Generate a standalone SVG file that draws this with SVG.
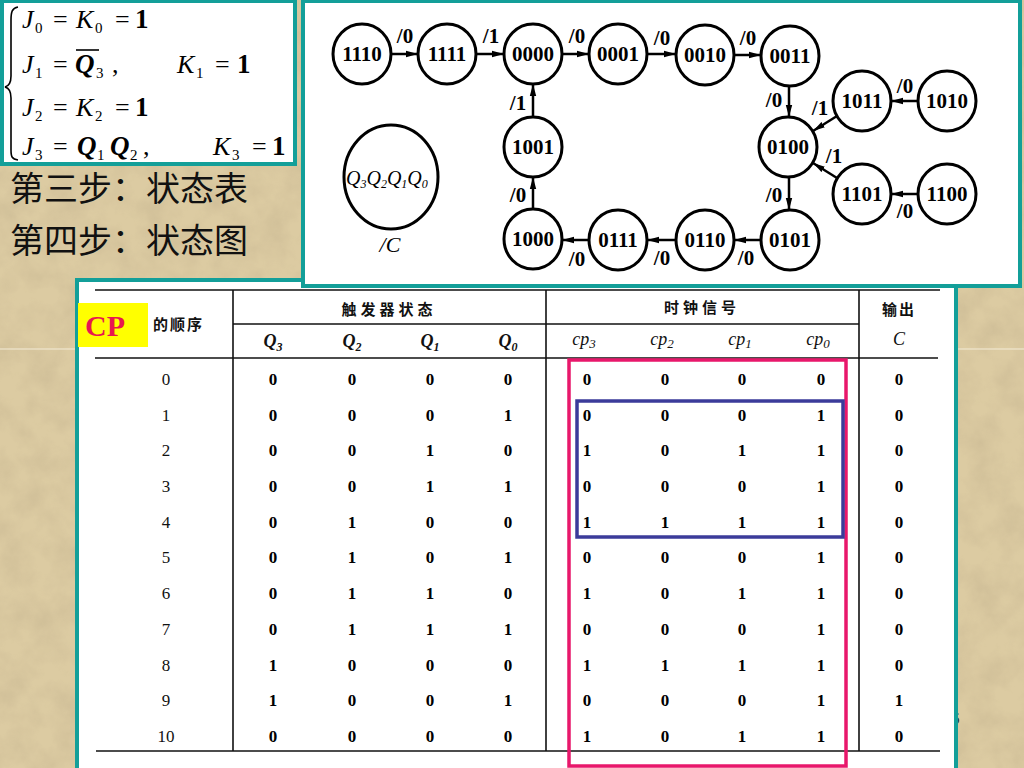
<svg xmlns="http://www.w3.org/2000/svg" width="1024" height="768" viewBox="0 0 1024 768">
<defs>
<filter id="paper" x="0" y="0" width="100%" height="100%">
<feTurbulence type="fractalNoise" baseFrequency="0.035" numOctaves="4" seed="7"/>
<feColorMatrix type="matrix" values="0 0 0 0 0.45  0 0 0 0 0.36  0 0 0 0 0.22  0.9 0 0 0 -0.3"/>
</filter>
<marker id="ah" markerUnits="userSpaceOnUse" markerWidth="12" markerHeight="8" refX="12" refY="4" orient="auto">
<path d="M0,0.8 L12,4 L0,7.2 z" fill="#000"/>
</marker>
<style>
.box{fill:#fff;stroke:#139f99;stroke-width:4}
.node{fill:#fff;stroke:#000;stroke-width:3}
.nt{font-family:"Liberation Serif",serif;font-weight:bold;font-size:21px;text-anchor:middle;fill:#000}
.lb{font-family:"Liberation Serif",serif;font-weight:bold;font-size:21px;text-anchor:middle;fill:#000}
.edge{stroke:#000;stroke-width:2.5;fill:none;marker-end:url(#ah)}
.ei{font-family:"Liberation Serif",serif;font-style:italic;font-size:26px;fill:#000}
.eq{font-family:"Liberation Serif",serif;font-style:italic;font-weight:bold;font-size:27px;fill:#000}
.er{font-family:"Liberation Serif",serif;font-size:26px;fill:#000}
.eb{font-family:"Liberation Serif",serif;font-weight:bold;font-size:27px;fill:#000}
.es{font-family:"Liberation Serif",serif;font-size:15px;fill:#000}
.cn{font-family:"Noto Sans CJK SC",sans-serif;font-size:34px;fill:#111}
.th{font-family:"Noto Sans CJK SC",sans-serif;font-weight:bold;font-size:15px;fill:#111;text-anchor:middle}
.hq{font-family:"Liberation Serif",serif;font-style:italic;font-weight:bold;font-size:18px;fill:#111;text-anchor:middle}
.hc{font-family:"Liberation Serif",serif;font-style:italic;font-size:18px;fill:#111;text-anchor:middle}
.tl{stroke:#111;stroke-width:1.6;fill:none}
.tn{font-family:"Liberation Serif",serif;font-size:17px;fill:#111;text-anchor:middle}
.d{font-family:"Liberation Serif",serif;font-weight:bold;font-size:17px;fill:#000;text-anchor:middle}
</style>
</defs>

<!-- background -->
<rect x="0" y="0" width="1024" height="768" fill="#dccba2"/>
<rect x="0" y="0" width="1024" height="768" filter="url(#paper)" opacity="0.55"/>
<line x1="0" y1="349" x2="1024" y2="349" stroke="#f4ecd8" stroke-width="1"/>
<text x="951" y="724" font-family="Liberation Serif, serif" font-size="17" fill="#333">6</text>

<!-- equations box -->
<g id="equations">
<rect class="box" x="2" y="1" width="293" height="163"/>
<path d="M18,7 C12,8 11,12 11,20 L11,76 C11,82 9,86 5,87 C9,88 11,92 11,98 L11,150 C11,157 12,159 18,160" fill="none" stroke="#000" stroke-width="1.6"/>
<text class="ei" x="22" y="28">J</text><text class="es" x="35" y="33">0</text>
<text class="er" x="53" y="28">=</text>
<text class="ei" x="76" y="28">K</text><text class="es" x="95" y="33">0</text>
<text class="er" x="115" y="28">=</text>
<text class="eb" x="135" y="28">1</text>

<text class="ei" x="22" y="73">J</text><text class="es" x="35" y="78">1</text>
<text class="er" x="53" y="73">=</text>
<text class="eq" x="75" y="73">Q</text><text class="es" x="96" y="78">3</text>
<line x1="76" y1="50" x2="99" y2="50" stroke="#000" stroke-width="1.6"/>
<text class="er" x="112" y="73">,</text>
<text class="ei" x="177" y="73">K</text><text class="es" x="196" y="78">1</text>
<text class="er" x="215" y="73">=</text>
<text class="eb" x="237" y="73">1</text>

<text class="ei" x="22" y="116">J</text><text class="es" x="35" y="121">2</text>
<text class="er" x="53" y="116">=</text>
<text class="ei" x="76" y="116">K</text><text class="es" x="95" y="121">2</text>
<text class="er" x="115" y="116">=</text>
<text class="eb" x="135" y="116">1</text>

<text class="ei" x="22" y="155">J</text><text class="es" x="35" y="160">3</text>
<text class="er" x="53" y="155">=</text>
<text class="eq" x="77" y="155">Q</text><text class="es" x="97" y="160">1</text>
<text class="eq" x="110" y="155">Q</text><text class="es" x="130" y="160">2</text>
<text class="er" x="143" y="155">,</text>
<text class="ei" x="213" y="155">K</text><text class="es" x="232" y="160">3</text>
<text class="er" x="252" y="155">=</text>
<text class="eb" x="272" y="155">1</text>
</g>

<g id="steps">
<text class="cn" x="10" y="201">第三步：状态表</text>
<text class="cn" x="10" y="253">第四步：状态图</text>
</g>

<!-- table box -->
<g id="table">
<rect class="box" x="77" y="280" width="879" height="500"/>
<rect x="78" y="303" width="70" height="44" fill="#ffff00"/>
<text x="85" y="336" font-family="Liberation Serif, serif" font-weight="bold" font-size="30" fill="#e8174f">CP</text>
<text x="153" y="330" font-family="Noto Sans CJK SC, sans-serif" font-weight="bold" font-size="15" letter-spacing="2" fill="#111">的顺序</text>
<line class="tl" x1="95" y1="290" x2="940" y2="290"/>
<line class="tl" x1="233" y1="290" x2="233" y2="751"/>
<line class="tl" x1="546" y1="290" x2="546" y2="751"/>
<line class="tl" x1="859" y1="290" x2="859" y2="751"/>
<line class="tl" x1="233" y1="324" x2="859" y2="324"/>
<line class="tl" x1="95" y1="358" x2="938" y2="358"/>
<line class="tl" x1="96" y1="751" x2="940" y2="751"/>
<text class="th" x="389" y="315" letter-spacing="4">触发器状态</text>
<text class="th" x="702" y="313" letter-spacing="4">时钟信号</text>
<text class="th" x="899" y="315" letter-spacing="2">输出</text>
<text class="hc" x="899" y="345">C</text>
<text class="hq" x="273" y="347">Q<tspan font-size="12" dy="4">3</tspan></text>
<text class="hq" x="352" y="347">Q<tspan font-size="12" dy="4">2</tspan></text>
<text class="hq" x="430" y="347">Q<tspan font-size="12" dy="4">1</tspan></text>
<text class="hq" x="508" y="347">Q<tspan font-size="12" dy="4">0</tspan></text>
<text class="hc" x="584" y="345">cp<tspan font-size="13" dy="3">3</tspan></text>
<text class="hc" x="662" y="345">cp<tspan font-size="13" dy="3">2</tspan></text>
<text class="hc" x="740" y="345">cp<tspan font-size="13" dy="3">1</tspan></text>
<text class="hc" x="818" y="345">cp<tspan font-size="13" dy="3">0</tspan></text>

<g transform="translate(0,385)"><text class="tn" x="166" y="0">0</text><text class="d" x="273" y="0">0</text><text class="d" x="352" y="0">0</text><text class="d" x="430" y="0">0</text><text class="d" x="508" y="0">0</text><text class="d" x="587" y="0">0</text><text class="d" x="665" y="0">0</text><text class="d" x="742" y="0">0</text><text class="d" x="821" y="0">0</text><text class="d" x="899" y="0">0</text></g>
<g transform="translate(0,421)"><text class="tn" x="166" y="0">1</text><text class="d" x="273" y="0">0</text><text class="d" x="352" y="0">0</text><text class="d" x="430" y="0">0</text><text class="d" x="508" y="0">1</text><text class="d" x="587" y="0">0</text><text class="d" x="665" y="0">0</text><text class="d" x="742" y="0">0</text><text class="d" x="821" y="0">1</text><text class="d" x="899" y="0">0</text></g>
<g transform="translate(0,456)"><text class="tn" x="166" y="0">2</text><text class="d" x="273" y="0">0</text><text class="d" x="352" y="0">0</text><text class="d" x="430" y="0">1</text><text class="d" x="508" y="0">0</text><text class="d" x="587" y="0">1</text><text class="d" x="665" y="0">0</text><text class="d" x="742" y="0">1</text><text class="d" x="821" y="0">1</text><text class="d" x="899" y="0">0</text></g>
<g transform="translate(0,492)"><text class="tn" x="166" y="0">3</text><text class="d" x="273" y="0">0</text><text class="d" x="352" y="0">0</text><text class="d" x="430" y="0">1</text><text class="d" x="508" y="0">1</text><text class="d" x="587" y="0">0</text><text class="d" x="665" y="0">0</text><text class="d" x="742" y="0">0</text><text class="d" x="821" y="0">1</text><text class="d" x="899" y="0">0</text></g>
<g transform="translate(0,528)"><text class="tn" x="166" y="0">4</text><text class="d" x="273" y="0">0</text><text class="d" x="352" y="0">1</text><text class="d" x="430" y="0">0</text><text class="d" x="508" y="0">0</text><text class="d" x="587" y="0">1</text><text class="d" x="665" y="0">1</text><text class="d" x="742" y="0">1</text><text class="d" x="821" y="0">1</text><text class="d" x="899" y="0">0</text></g>
<g transform="translate(0,563)"><text class="tn" x="166" y="0">5</text><text class="d" x="273" y="0">0</text><text class="d" x="352" y="0">1</text><text class="d" x="430" y="0">0</text><text class="d" x="508" y="0">1</text><text class="d" x="587" y="0">0</text><text class="d" x="665" y="0">0</text><text class="d" x="742" y="0">0</text><text class="d" x="821" y="0">1</text><text class="d" x="899" y="0">0</text></g>
<g transform="translate(0,599)"><text class="tn" x="166" y="0">6</text><text class="d" x="273" y="0">0</text><text class="d" x="352" y="0">1</text><text class="d" x="430" y="0">1</text><text class="d" x="508" y="0">0</text><text class="d" x="587" y="0">1</text><text class="d" x="665" y="0">0</text><text class="d" x="742" y="0">1</text><text class="d" x="821" y="0">1</text><text class="d" x="899" y="0">0</text></g>
<g transform="translate(0,635)"><text class="tn" x="166" y="0">7</text><text class="d" x="273" y="0">0</text><text class="d" x="352" y="0">1</text><text class="d" x="430" y="0">1</text><text class="d" x="508" y="0">1</text><text class="d" x="587" y="0">0</text><text class="d" x="665" y="0">0</text><text class="d" x="742" y="0">0</text><text class="d" x="821" y="0">1</text><text class="d" x="899" y="0">0</text></g>
<g transform="translate(0,671)"><text class="tn" x="166" y="0">8</text><text class="d" x="273" y="0">1</text><text class="d" x="352" y="0">0</text><text class="d" x="430" y="0">0</text><text class="d" x="508" y="0">0</text><text class="d" x="587" y="0">1</text><text class="d" x="665" y="0">1</text><text class="d" x="742" y="0">1</text><text class="d" x="821" y="0">1</text><text class="d" x="899" y="0">0</text></g>
<g transform="translate(0,706)"><text class="tn" x="166" y="0">9</text><text class="d" x="273" y="0">1</text><text class="d" x="352" y="0">0</text><text class="d" x="430" y="0">0</text><text class="d" x="508" y="0">1</text><text class="d" x="587" y="0">0</text><text class="d" x="665" y="0">0</text><text class="d" x="742" y="0">0</text><text class="d" x="821" y="0">1</text><text class="d" x="899" y="0">1</text></g>
<g transform="translate(0,742)"><text class="tn" x="166" y="0">10</text><text class="d" x="273" y="0">0</text><text class="d" x="352" y="0">0</text><text class="d" x="430" y="0">0</text><text class="d" x="508" y="0">0</text><text class="d" x="587" y="0">1</text><text class="d" x="665" y="0">0</text><text class="d" x="742" y="0">1</text><text class="d" x="821" y="0">1</text><text class="d" x="899" y="0">0</text></g>

<rect x="569" y="360" width="277" height="406" fill="none" stroke="#e8176b" stroke-width="3.5"/>
<rect x="577" y="401" width="266" height="136" fill="none" stroke="#3b3b9a" stroke-width="3.5"/>
</g>

<!-- state diagram box -->
<rect class="box" x="303" y="1" width="717" height="285"/>

<g id="connectors">
<line class="edge" x1="391" y1="54" x2="418" y2="54"/>
<line class="edge" x1="476" y1="54" x2="504" y2="54"/>
<line class="edge" x1="562" y1="54" x2="589" y2="54"/>
<line class="edge" x1="647" y1="54" x2="676" y2="54"/>
<line class="edge" x1="734" y1="55" x2="761" y2="55"/>
<line class="edge" x1="789" y1="86" x2="789" y2="117"/>
<line class="edge" x1="789" y1="177" x2="789" y2="210"/>
<line class="edge" x1="918" y1="101" x2="891" y2="101"/>
<line class="edge" x1="837" y1="116" x2="813" y2="131"/>
<line class="edge" x1="918" y1="194" x2="891" y2="194"/>
<line class="edge" x1="837" y1="178" x2="813" y2="163"/>
<line class="edge" x1="761" y1="240" x2="734" y2="240"/>
<line class="edge" x1="676" y1="240" x2="647" y2="240"/>
<line class="edge" x1="589" y1="240" x2="562" y2="240"/>
<line class="edge" x1="533" y1="209" x2="533" y2="177"/>
<line class="edge" x1="533" y1="117" x2="533" y2="84"/>
<text class="lb" x="405" y="43">/0</text>
<text class="lb" x="491" y="43">/1</text>
<text class="lb" x="577" y="43">/0</text>
<text class="lb" x="662" y="45">/0</text>
<text class="lb" x="748" y="45">/0</text>
<text class="lb" x="774" y="107">/0</text>
<text class="lb" x="820" y="115">/1</text>
<text class="lb" x="905" y="93">/0</text>
<text class="lb" x="834" y="163">/1</text>
<text class="lb" x="905" y="218">/0</text>
<text class="lb" x="774" y="202">/0</text>
<text class="lb" x="746" y="265">/0</text>
<text class="lb" x="662" y="265">/0</text>
<text class="lb" x="577" y="266">/0</text>
<text class="lb" x="518" y="202">/0</text>
<text class="lb" x="518" y="110">/1</text>
</g>

<g id="n1110"><ellipse class="node" cx="362" cy="54" rx="29" ry="30"/><text class="nt" x="362" y="61">1110</text></g>
<g id="n1111"><ellipse class="node" cx="447" cy="54" rx="29" ry="30"/><text class="nt" x="447" y="61">1111</text></g>
<g id="n0000"><ellipse class="node" cx="533" cy="54" rx="29" ry="30"/><text class="nt" x="533" y="61">0000</text></g>
<g id="n0001"><ellipse class="node" cx="618" cy="54" rx="29" ry="30"/><text class="nt" x="618" y="61">0001</text></g>
<g id="n0010"><ellipse class="node" cx="705" cy="55" rx="29" ry="30"/><text class="nt" x="705" y="62">0010</text></g>
<g id="n0011"><ellipse class="node" cx="790" cy="56" rx="29" ry="30"/><text class="nt" x="790" y="63">0011</text></g>
<g id="n1011"><ellipse class="node" cx="862" cy="101" rx="29" ry="30"/><text class="nt" x="862" y="108">1011</text></g>
<g id="n1010"><ellipse class="node" cx="947" cy="101" rx="29" ry="30"/><text class="nt" x="947" y="108">1010</text></g>
<g id="n0100"><ellipse class="node" cx="788" cy="147" rx="29" ry="30"/><text class="nt" x="788" y="154">0100</text></g>
<g id="n1101"><ellipse class="node" cx="862" cy="194" rx="29" ry="30"/><text class="nt" x="862" y="201">1101</text></g>
<g id="n1100"><ellipse class="node" cx="947" cy="194" rx="29" ry="30"/><text class="nt" x="947" y="201">1100</text></g>
<g id="n0101"><ellipse class="node" cx="790" cy="240" rx="29" ry="30"/><text class="nt" x="790" y="247">0101</text></g>
<g id="n0110"><ellipse class="node" cx="705" cy="240" rx="29" ry="30"/><text class="nt" x="705" y="247">0110</text></g>
<g id="n0111"><ellipse class="node" cx="618" cy="240" rx="29" ry="30"/><text class="nt" x="618" y="247">0111</text></g>
<g id="n1000"><ellipse class="node" cx="533" cy="239" rx="29" ry="30"/><text class="nt" x="533" y="246">1000</text></g>
<g id="n1001"><ellipse class="node" cx="533" cy="147" rx="29" ry="30"/><text class="nt" x="533" y="154">1001</text></g>

<g id="legend">
<ellipse class="node" cx="391" cy="177" rx="47" ry="52"/>
<text x="346" y="185" font-family="Liberation Serif, serif" font-style="italic" font-size="20" fill="#000">Q<tspan font-size="12" dy="3">3</tspan><tspan dy="-3">Q</tspan><tspan font-size="12" dy="3">2</tspan><tspan dy="-3">Q</tspan><tspan font-size="12" dy="3">1</tspan><tspan dy="-3">Q</tspan><tspan font-size="12" dy="3">0</tspan></text>
<text x="390" y="252" font-family="Liberation Serif, serif" font-style="italic" font-size="22" text-anchor="middle" fill="#000">/C</text>
</g>
</svg>
